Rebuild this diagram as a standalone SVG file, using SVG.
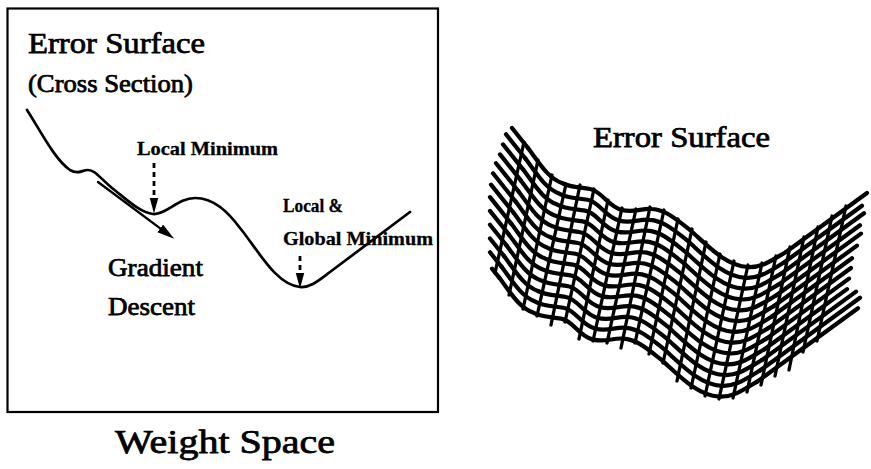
<svg xmlns="http://www.w3.org/2000/svg" width="871" height="469" viewBox="0 0 871 469">
<style>
.t{font-family:"Liberation Serif","Times New Roman",serif;fill:#000;stroke:#000;stroke-width:0.75}
.b{font-family:"Liberation Serif","Times New Roman",serif;font-weight:bold;fill:#000;stroke:#000;stroke-width:0.3}
.ln{fill:none;stroke:#000;stroke-linecap:round;stroke-linejoin:round}
.h{fill:none;stroke:#000;stroke-width:4.2;stroke-linecap:round;stroke-linejoin:round}
.v{stroke:#000;stroke-width:3.3;stroke-linecap:round}
.dash{fill:none;stroke:#000;stroke-width:2.8;stroke-dasharray:5 4}
</style>
<defs>
<marker id="headSmall" markerUnits="userSpaceOnUse" markerWidth="16" markerHeight="10" refX="0" refY="4" orient="auto" viewBox="0 0 14 8">
<path d="M0,0.3 L13.5,4 L0,7.7 z" fill="#000"/>
</marker>
<marker id="headGrad" markerUnits="userSpaceOnUse" markerWidth="18" markerHeight="10" refX="0" refY="4.5" orient="auto" viewBox="0 0 17 9">
<path d="M0,0 L16.5,4.5 L0,9 z" fill="#000"/>
</marker>
<path id="profile" d="M528,148 C540,164 548,178 562,183 C572,188 580,187 590,189 C602,191 608,207 622,210 C634,213 642,208 652,209 C666,210 676,219 690,230 C708,246 726,266 748,267 C762,268 772,260 786,252"/>
</defs>
<rect width="871" height="469" fill="#fff"/>

<g id="cross-section-panel">
<rect x="7.5" y="8.5" width="430.5" height="403.5" fill="none" stroke="#000" stroke-width="2.2"/>
<text class="t" x="28" y="53" font-size="30" textLength="177" lengthAdjust="spacingAndGlyphs">Error Surface</text>
<text class="t" x="28" y="92" font-size="25" textLength="165" lengthAdjust="spacingAndGlyphs">(Cross Section)</text>
<path id="error-curve" class="ln" stroke-width="2.7" d="M27,110 C40,130 55,160 70,170 C78,175 82,170 88,170 C95,170 100,178 112,188 C125,198 140,213 153,214 C166,215 178,198 195,198 C214,198 228,212 240,228 C258,250 276,285 300,287 C310,288 318,281 330,272 L410,212"/>
</g>

<g id="label-local-minimum">
<text class="b" x="137" y="155" font-size="19" textLength="141" lengthAdjust="spacingAndGlyphs">Local Minimum</text>
</g>
<g id="label-global-minimum">
<text class="b" x="283" y="212" font-size="19" textLength="60" lengthAdjust="spacingAndGlyphs">Local &amp;</text>
<text class="b" x="283" y="245" font-size="19" textLength="150" lengthAdjust="spacingAndGlyphs">Global Minimum</text>
</g>
<g id="label-gradient-descent">
<text class="t" x="108" y="276" font-size="25" textLength="95" lengthAdjust="spacingAndGlyphs">Gradient</text>
<text class="t" x="108" y="315" font-size="25" textLength="87" lengthAdjust="spacingAndGlyphs">Descent</text>
</g>
<g id="label-weight-space">
<text class="t" x="115" y="453" font-size="33" textLength="220" lengthAdjust="spacingAndGlyphs">Weight Space</text>
</g>

<g id="connectors">
<line class="dash" x1="154" y1="163" x2="154" y2="198" marker-end="url(#headSmall)"/>
<line class="dash" x1="300" y1="256" x2="300" y2="273" marker-end="url(#headSmall)"/>
<line class="ln" stroke-width="2.4" x1="98" y1="182" x2="160.2" y2="228.4" marker-end="url(#headGrad)"/>
</g>

<g id="error-surface-3d">
<text class="t" x="593" y="147" font-size="29" textLength="177" lengthAdjust="spacingAndGlyphs">Error Surface</text>
<g id="mesh-profiles">
<g transform="translate(0,0)"><use href="#profile" class="h"/><path class="h" d="M512,128 L528,148 M786,252 L867,193"/></g>
<g transform="translate(-2.4,10.8)"><use href="#profile" class="h"/><path class="h" d="M508.4,123.5 L528,148 M786,252 L864.4,194.9"/></g>
<g transform="translate(-4.8,21.6)"><use href="#profile" class="h"/><path class="h" d="M507.8,122.8 L528,148 M786,252 L868.8,191.7"/></g>
<g transform="translate(-7.2,32.4)"><use href="#profile" class="h"/><path class="h" d="M507.2,122 L528,148 M786,252 L867.2,192.9"/></g>
<g transform="translate(-9.6,43.2)"><use href="#profile" class="h"/><path class="h" d="M505.6,120 L528,148 M786,252 L870.6,190.4"/></g>
<g transform="translate(-12,54)"><use href="#profile" class="h"/><path class="h" d="M505,119.3 L528,148 M786,252 L869,191.6"/></g>
<g transform="translate(-14.4,64.8)"><use href="#profile" class="h"/><path class="h" d="M505.4,119.8 L528,148 M786,252 L866.4,193.5"/></g>
<g transform="translate(-16.8,75.6)"><use href="#profile" class="h"/><path class="h" d="M506.8,121.5 L528,148 M786,252 L867.8,192.4"/></g>
<g transform="translate(-19.2,86.4)"><use href="#profile" class="h"/><path class="h" d="M509.2,124.5 L528,148 M786,252 L868.2,192.2"/></g>
<g transform="translate(-21.6,97.2)"><use href="#profile" class="h"/><path class="h" d="M511.6,127.5 L528,148 M786,252 L868.6,191.9"/></g>
<g transform="translate(-24,108)"><use href="#profile" class="h"/><path class="h" d="M514,130.5 L528,148 M786,252 L880,183.6"/></g>
<g transform="translate(-26.4,118.8)"><use href="#profile" class="h"/><path class="h" d="M516.4,133.5 L528,148 M786,252 L886.4,178.9"/></g>
<g transform="translate(-28.8,129.6)"><use href="#profile" class="h"/><path class="h" d="M520.8,139 L528,148 M786,252 L886.8,178.6"/></g>
</g>
<g id="mesh-cross-lines">
<line class="v" x1="524" y1="142" x2="495" y2="273"/>
<line class="v" x1="538" y1="160" x2="509" y2="295"/>
<line class="v" x1="552" y1="175" x2="523" y2="309"/>
<line class="v" x1="566" y1="184" x2="537" y2="316"/>
<line class="v" x1="580" y1="185" x2="551" y2="325"/>
<line class="v" x1="594" y1="189" x2="565" y2="322"/>
<line class="v" x1="608" y1="200" x2="579" y2="339"/>
<line class="v" x1="622" y1="208" x2="593" y2="341"/>
<line class="v" x1="636" y1="209" x2="607" y2="343"/>
<line class="v" x1="650" y1="207" x2="621" y2="348"/>
<line class="v" x1="664" y1="210" x2="635" y2="343"/>
<line class="v" x1="678" y1="219" x2="649" y2="354"/>
<line class="v" x1="692" y1="229" x2="663" y2="363"/>
<line class="v" x1="706" y1="242" x2="677" y2="381"/>
<line class="v" x1="720" y1="254" x2="691" y2="388"/>
<line class="v" x1="734" y1="261" x2="705" y2="396"/>
<line class="v" x1="748" y1="265" x2="719" y2="399"/>
<line class="v" x1="762" y1="263" x2="733" y2="398"/>
<line class="v" x1="776" y1="256" x2="747" y2="392"/>
<line class="v" x1="790" y1="247" x2="761" y2="385"/>
<line class="v" x1="804" y1="237" x2="775" y2="376"/>
<line class="v" x1="818" y1="227" x2="789" y2="370"/>
<line class="v" x1="832" y1="216" x2="803" y2="352"/>
<line class="v" x1="846" y1="206" x2="817" y2="341"/>
</g>
</g>
</svg>
